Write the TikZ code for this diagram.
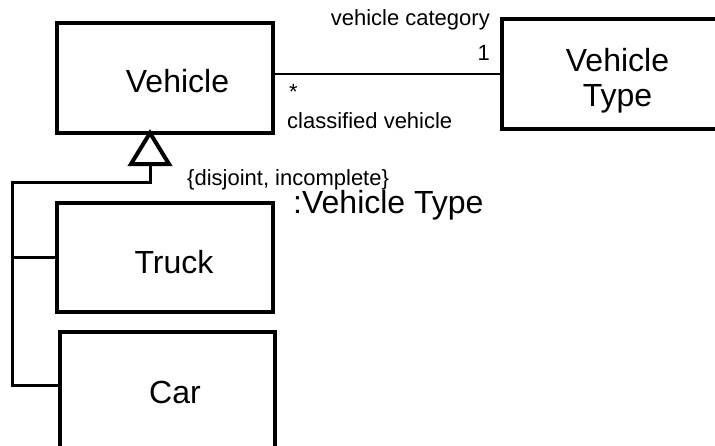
\documentclass[tikz,border=0pt]{standalone}
\usepackage{fontspec}
\setmainfont{Liberation Sans}
\usetikzlibrary{calc}
\begin{document}
\begin{tikzpicture}[x=1pt,y=-1pt,
  classbox/.style={draw,line width=3.5pt,inner sep=0pt,outer sep=0pt},
  bigtxt/.style={font=\fontsize{32}{35}\selectfont,inner sep=0pt},
  smalltxt/.style={font=\fontsize{22}{26}\selectfont,inner sep=0pt},
  assoc/.style={line width=2.8pt},
  genline/.style={line width=3pt},
  gentip/.style={line width=4pt,fill=white,line join=miter}]
  \clip (0,0) rectangle (715,445);
  \fill[white] (0,0) rectangle (715,445);

  % classes
  \node[classbox,minimum width=216pt,minimum height=110pt] (vehicle) at (165,78) {};
  \node[classbox,minimum width=228pt,minimum height=110pt] (vtype) at (616,74) {};
  \node[classbox,minimum width=216pt,minimum height=109pt] (truck) at (165,257.5) {};
  \node[classbox,minimum width=215pt,minimum height=118pt] (car) at (167.5,391) {};

  % class names
  \node[bigtxt,anchor=base] (vehiclename) at ($(vehicle.center)+(12.5,14)$) {Vehicle};
  \node[bigtxt,anchor=north,align=center] (vtypename) at ($(vtype.center)+(1.5,-26)$) {Vehicle\\Type};
  \node[bigtxt,anchor=base] (truckname) at ($(truck.center)+(9,15.5)$) {Truck};
  \node[bigtxt,anchor=base] (carname) at ($(car.center)+(7.5,12)$) {Car};

  % association with role names and multiplicities
  \draw[assoc] (vehicle.east |- vtype.west) -- (vtype.west);
  \node[smalltxt,anchor=base east] (rolecat) at (490,25) {vehicle category};
  \node[smalltxt,anchor=base east] (multone) at (490,60) {1};
  \node[smalltxt,anchor=base west] (multmany) at (289,99) {*};
  \node[smalltxt,anchor=base west] (roleclass) at (287,128) {classified vehicle};

  % generalization set
  \coordinate (tip) at ([xshift=-15pt]vehicle.south);
  \coordinate (stem) at ($(tip)+(0,31)$);
  \coordinate (bus) at (12,182);
  \coordinate (carjoin) at ([yshift=6pt]car.west);
  \draw[genline] (stem) -- (stem |- bus) -- (bus) -- (bus |- carjoin) -- (carjoin);
  \draw[genline] (truck.west) -- (truck.west -| bus);
  \draw[gentip] (tip) -- ++(-19,31) -- ++(38,0) -- cycle;
  \node[smalltxt,anchor=base west] (constraint) at (187,185) {\{disjoint, incomplete\}};
  \node[bigtxt,anchor=base west] (powertype) at (293,213) {:Vehicle Type};
\end{tikzpicture}
\end{document}
